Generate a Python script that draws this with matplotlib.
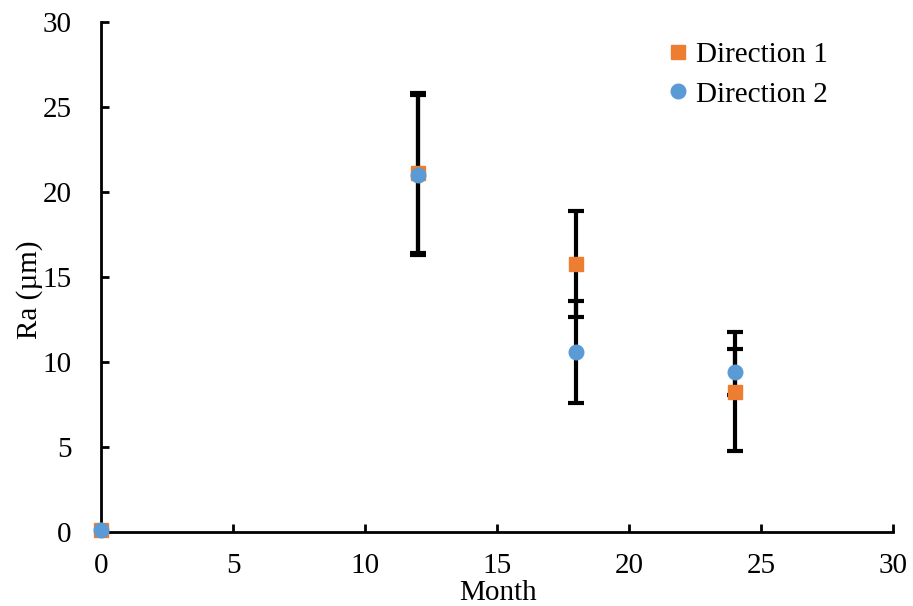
import matplotlib
matplotlib.use("Agg")
import matplotlib.pyplot as plt

# data
months = [0, 12, 18, 24]
ra_dir1 = [0.1, 21.1, 15.76, 8.24]
err_dir1 = [0.0, 4.7, 3.1, 3.5]
ra_dir2 = [0.1, 21.0, 10.59, 9.41]
err_dir2 = [0.0, 4.7, 3.0, 1.35]

plt.rcParams['font.family'] = ['Liberation Serif', 'DejaVu Serif']

fig = plt.figure(figsize=(9.13, 6.06), dpi=100)
ax = fig.add_axes([101 / 913, 1 - 532 / 606, (893 - 101) / 913, (532 - 22) / 606])

ax.errorbar(months, ra_dir1, yerr=err_dir1, fmt='none', ecolor='black',
            elinewidth=3, capsize=6, capthick=3, zorder=2)
ax.errorbar(months, ra_dir2, yerr=err_dir2, fmt='none', ecolor='black',
            elinewidth=3, capsize=6, capthick=3, zorder=2)
ax.plot(months, ra_dir1, linestyle='none', marker='s', markersize=10,
        color='#ED7D31', label='Direction 1', zorder=3, clip_on=False)
ax.plot(months, ra_dir2, linestyle='none', marker='o', markersize=10.5,
        color='#5B9BD5', label='Direction 2', zorder=4, clip_on=False)

ax.set_xlim(0, 30)
ax.set_ylim(0, 30)
ax.set_xticks(range(0, 31, 5))
ax.set_yticks(range(0, 31, 5))
for s in ['top', 'right']:
    ax.spines[s].set_visible(False)
for s in ['left', 'bottom']:
    ax.spines[s].set_linewidth(2)
ax.tick_params(direction='in', length=6, width=2, labelsize=21)
ax.tick_params(axis='x', pad=15)
ax.tick_params(axis='y', pad=21)
fig.text(498 / 913, 1 - 593 / 606, 'Month', fontsize=21, ha='center', va='center')
fig.text(30 / 913, 1 - 290 / 606, 'Ra (\u00b5m)', fontsize=21, ha='center',
         va='center', rotation=90)

ax.legend(loc='upper left', bbox_to_anchor=(0.677, 1.013), frameon=False,
          fontsize=21, handletextpad=0.1, handlelength=1.0, labelspacing=0.45)

fig.savefig('out.png', dpi=100)
